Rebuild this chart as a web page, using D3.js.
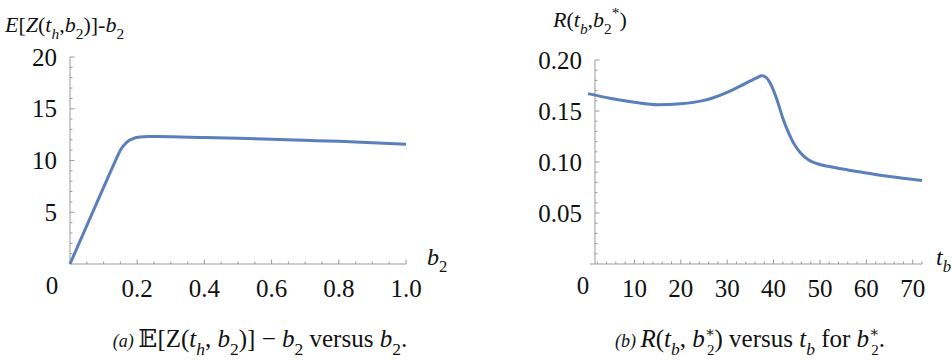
<!DOCTYPE html>
<html>
<head>
<meta charset="utf-8">
<script src="https://cdn.jsdelivr.net/npm/d3@7"></script>
<style>
  body { margin: 0; background: #fff; }
  svg { display: block; }
  svg text { font-family: Liberation Serif, DejaVu Serif, Times New Roman, serif; }
</style>
</head>
<body>
<svg id="chart" width="952" height="360"></svg>
<script>
// panel (a): E[Z(t_h,b_2)] - b_2 vs b_2
const b2Values = [0, 0.05, 0.1, 0.13, 0.15, 0.17, 0.19, 0.21, 0.23, 0.26, 0.3, 0.4, 0.5, 0.6, 0.7, 0.8, 0.9, 1.0];
const ezValues = [0, 3.7, 7.4, 9.6, 11.0, 11.8, 12.15, 12.28, 12.32, 12.31, 12.29, 12.22, 12.14, 12.05, 11.95, 11.85, 11.72, 11.58];
const aXTicks = [0.2, 0.4, 0.6, 0.8, 1.0];
const aYTicks = [5, 10, 15, 20];

// panel (b): R(t_b, b_2*) vs t_b
const tbValues = [0, 5, 10, 15, 20, 25, 27, 30, 33, 35, 36.5, 37.5, 38.4, 39.2, 40.7, 42, 43.2, 44.2, 45.7, 47.4, 49.3, 52, 56, 60, 65, 72];
const rValues = [0.167, 0.1622, 0.1586, 0.1562, 0.1571, 0.1604, 0.163, 0.1683, 0.1748, 0.1795, 0.1828, 0.1845, 0.183, 0.178, 0.1616, 0.143, 0.129, 0.1195, 0.1095, 0.1025, 0.0985, 0.0955, 0.0922, 0.0893, 0.0858, 0.0818];
const bXTicks = [10, 20, 30, 40, 50, 60, 70];
const bYTicks = [0.05, 0.10, 0.15, 0.20];

const svg = d3.select('#chart');
const lineColor = '#5a7fbb';
const axisColor = '#9a9a9a';

// rich text helper: segments of {t, i (italic), sub, sup, dx, fs}
function richText(g, x, y, segs, size, anchor) {
  const txt = g.append('text')
    .attr('x', x).attr('y', y)
    .style('font-size', size + 'px')
    .attr('fill', '#111')
    .attr('text-anchor', anchor || 'start');
  let shift = 0;
  segs.forEach(s => {
    const sp = txt.append('tspan').text(s.t);
    const target = s.sub ? size * 0.3 : s.sup ? -size * 0.42 : 0;
    sp.attr('dy', target - shift);
    shift = target;
    if (s.i) sp.style('font-style', 'italic');
    if (s.sub || s.sup) sp.style('font-size', (size * (s.small ? 0.6 : 0.7)) + 'px');
    if (s.fs) sp.style('font-size', s.fs + 'px');
    if (s.dx) sp.attr('dx', s.dx);
  });
  return txt;
}

function drawPanel(opts) {
  const g = svg.append('g');
  const x = d3.scaleLinear().domain(opts.xDomain).range(opts.xRange);
  const y = d3.scaleLinear().domain(opts.yDomain).range(opts.yRange);
  const x0 = x(opts.yAxisAt);
  const y0 = y(0);

  // minor ticks
  const xMinor = d3.range(opts.xMinor[0], opts.xMinor[1] + 1e-9, opts.xMinor[2]);
  const yMinor = d3.range(opts.yMinor[0], opts.yMinor[1] + 1e-9, opts.yMinor[2]);
  const isMajor = (v, list) => list.some(m => Math.abs(m - v) < 1e-9);

  g.selectAll('.xt').data(xMinor).enter().append('line')
    .attr('x1', d => x(d)).attr('x2', d => x(d))
    .attr('y1', y0).attr('y2', d => y0 - (isMajor(d, opts.xTicks) ? 4.5 : 2.5))
    .attr('stroke', axisColor).attr('stroke-width', 1);
  g.selectAll('.yt').data(yMinor).enter().append('line')
    .attr('y1', d => y(d)).attr('y2', d => y(d))
    .attr('x1', x0).attr('x2', d => x0 + (isMajor(d, opts.yTicks) ? 4.5 : 2.5))
    .attr('stroke', axisColor).attr('stroke-width', 1);

  // axis lines
  g.append('line')
    .attr('x1', opts.xLineStart).attr('x2', x(opts.xDomain[1]))
    .attr('y1', y0).attr('y2', y0)
    .attr('stroke', axisColor).attr('stroke-width', 1);
  g.append('line')
    .attr('x1', x0).attr('x2', x0)
    .attr('y1', y0).attr('y2', y(opts.yDomain[1]))
    .attr('stroke', axisColor).attr('stroke-width', 1);

  // tick labels
  g.selectAll('.xl').data(opts.xTicks).enter().append('text')
    .attr('x', d => x(d)).attr('y', 297)
    .attr('text-anchor', 'middle')
    .attr('fill', '#111')
    .style('font-size', '25px')
    .text(opts.xFormat);
  g.selectAll('.yl').data(opts.yTicks).enter().append('text')
    .attr('x', x0 - 13).attr('y', d => y(d))
    .attr('dy', '0.34em')
    .attr('text-anchor', 'end')
    .attr('fill', '#111')
    .style('font-size', '25px')
    .text(opts.yFormat);
  g.append('text')
    .attr('x', opts.originLabelX).attr('y', 294)
    .attr('text-anchor', 'middle')
    .attr('fill', '#111')
    .style('font-size', '25px')
    .text('0');

  // curve
  const line = d3.line()
    .x((d, i) => x(opts.xs[i]))
    .y(d => y(d))
    .curve(d3.curveMonotoneX);
  g.append('path')
    .datum(opts.ys)
    .attr('d', line)
    .attr('fill', 'none')
    .attr('stroke', lineColor)
    .attr('stroke-width', 3)
    .attr('stroke-linejoin', 'round');

  return g;
}

const ga = drawPanel({
  xDomain: [0, 1], xRange: [70, 406],
  yDomain: [0, 20], yRange: [264, 57],
  yAxisAt: 0, xLineStart: 70,
  xTicks: aXTicks, yTicks: aYTicks,
  xMinor: [0.05, 1.0, 0.05], yMinor: [1, 20, 1],
  xFormat: d3.format('.1f'), yFormat: d => d,
  originLabelX: 52,
  xs: b2Values, ys: ezValues
});

const gb = drawPanel({
  xDomain: [0, 72], xRange: [588, 922],
  yDomain: [0, 0.2], yRange: [264, 60],
  yAxisAt: 1.5, xLineStart: 590,
  xTicks: bXTicks, yTicks: bYTicks,
  xMinor: [2, 72, 2], yMinor: [0.01, 0.2, 0.01],
  xFormat: d => d, yFormat: d3.format('.2f'),
  originLabelX: 583,
  xs: tbValues, ys: rValues
});

// axis titles
richText(ga, 5, 32, [
  { t: 'E', i: true }, { t: '[' }, { t: 'Z', i: true }, { t: '(' },
  { t: 't', i: true }, { t: 'h', i: true, sub: true }, { t: ',' },
  { t: 'b', i: true }, { t: '2', sub: true }, { t: ')]-' },
  { t: 'b', i: true }, { t: '2', sub: true }
], 22);
richText(ga, 427, 265, [{ t: 'b', i: true }, { t: '2', sub: true }], 24);

richText(gb, 553, 27, [
  { t: 'R', i: true }, { t: '(' }, { t: 't', i: true }, { t: 'b', i: true, sub: true },
  { t: ',' }, { t: 'b', i: true }, { t: '2', sub: true }, { t: '*', sup: true }, { t: ')' }
], 22);
richText(gb, 936, 265, [{ t: 't', i: true }, { t: 'b', i: true, sub: true }], 24);

// captions
richText(svg, 260, 347, [
  { t: '(a) ', i: true, fs: 18 }, { t: '𝔼[Z(' }, { t: 't', i: true }, { t: 'h', i: true, sub: true },
  { t: ', ' }, { t: 'b', i: true }, { t: '2', sub: true }, { t: ')] − ' },
  { t: 'b', i: true }, { t: '2', sub: true }, { t: ' versus ' },
  { t: 'b', i: true }, { t: '2', sub: true }, { t: '.' }
], 25, 'middle');

richText(svg, 750, 347, [
  { t: '(b) ', i: true, fs: 18 }, { t: 'R', i: true }, { t: '(' }, { t: 't', i: true },
  { t: 'b', i: true, sub: true }, { t: ', ' }, { t: 'b', i: true },
  { t: '∗', sup: true, small: true }, { t: '2', sub: true, small: true, dx: -8 }, { t: ') versus ' },
  { t: 't', i: true }, { t: 'b', i: true, sub: true }, { t: ' for ' },
  { t: 'b', i: true }, { t: '∗', sup: true, small: true }, { t: '2', sub: true, small: true, dx: -8 }, { t: '.' }
], 25, 'middle');
</script>
</body>
</html>
